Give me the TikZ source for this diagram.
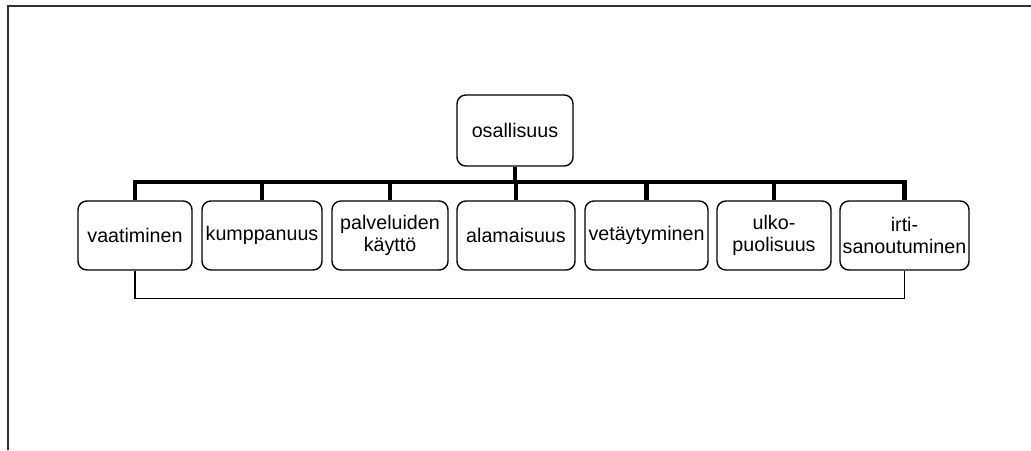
\documentclass[tikz,border=0pt]{standalone}
\usepackage{fontspec}
\setmainfont{Liberation Sans}
\begin{document}
\begin{tikzpicture}[x=0.02cm,y=-0.02cm,
  box/.style={draw=black, line width=0.8pt, rounded corners=5pt, align=center,
    inner sep=1pt, minimum height=69*0.02cm,
    font=\fontsize{11.2}{12.2}\selectfont},
  bus/.style={line width=2.8pt, line cap=butt},
  link/.style={line width=0.7pt},
  frame/.style={line width=1.3pt, draw=black!80}]
\useasboundingbox (0,0) rectangle (1031,450);
\draw[frame] (8,450) -- (8,6) -- (1031,6);
\node[box, minimum width=116*0.02cm, minimum height=71*0.02cm] (top) at (515,130.5) {osallisuus};
\node[box, minimum width=114*0.02cm] (v) at (135,235.5) {vaatiminen};
\node[box, minimum width=120*0.02cm] (k) at (262,235.5) {kumppanuus};
\node[box, minimum width=116*0.02cm] (p) at (390,235.5) {palveluiden\\käyttö};
\node[box, minimum width=118*0.02cm] (a) at (516,235.5) {alamaisuus};
\node[box, minimum width=123*0.02cm] (ve) at (646.5,235.5) {vetäytyminen};
\node[box, minimum width=114*0.02cm] (u) at (774,235.5) {ulko-\\puolisuus};
\node[box, minimum width=129*0.02cm] (i) at (904.5,235.5) {irti-\\sanoutuminen};
\coordinate (b) at (0,182);
\draw[bus] ([xshift=-1.4pt]v.north |- b) -- ([xshift=1.4pt]i.north |- b);
\draw[bus] (top.south) -- (top.south |- b);
\foreach \n in {v,k,p,a,ve,u,i}{
  \draw[bus] (\n.north) -- (\n.north |- b);
}
\draw[link] (v.south) -- ++(0,28) -| (i.south);
\end{tikzpicture}
\end{document}
